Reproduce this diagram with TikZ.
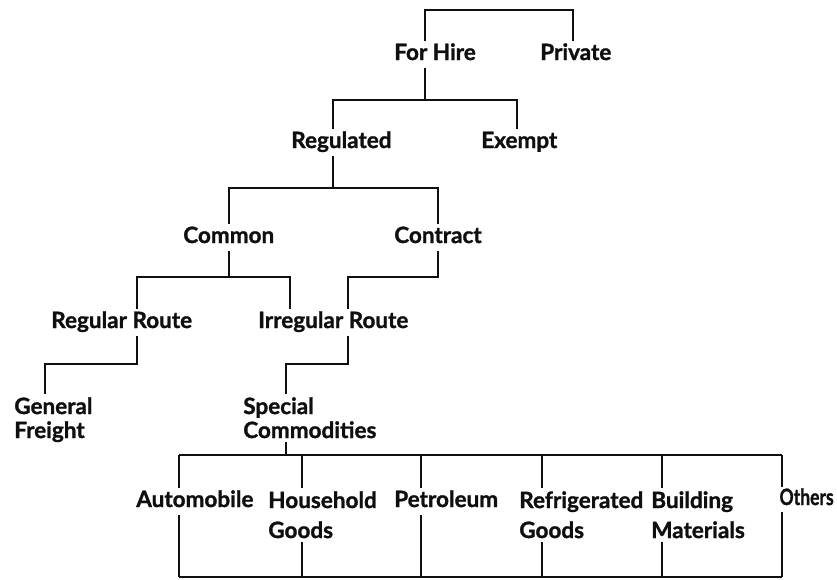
\documentclass[tikz,border=0pt]{standalone}
\usepackage{fontspec}
\setmainfont{Lato}[BoldFeatures={FakeBold=1.2}]
\usepackage{tikz}
\usetikzlibrary{positioning}
\definecolor{ink}{RGB}{15,15,15}

\begin{document}
\begin{tikzpicture}[x=1pt,y=-1pt,line width=2.6pt,color=ink,every node/.style={font=\fontsize{22.5}{24}\selectfont\bfseries,inner sep=2pt}]
\tikzstyle{t}=[anchor=base west,text height=16pt,text depth=5pt]
\tikzstyle{m}=[anchor=north west,align=left]
\useasboundingbox (0,0) rectangle (837,579);
\node[t] (fh) at (391,60)  {For Hire};
\node[t] (pv) at (537,60)  {Private};
\node[t] (rg) at (288,148) {Regulated};
\node[t] (ex) at (478,148) {Exempt};
\node[t] (cm) at (180,243) {Common};
\node[t] (ct) at (391,243) {Contract};
\node[t] (rr) at (48,328)  {Regular Route};
\node[t] (ir) at (255,328) {Irregular Route};
\node[m] (gf) at (11,394)  {General\\Freight};
\node[m] (sc) at (240,394) {Special\\Commodities};
\node[t] (au) at (133,507) {Automobile};
\node[m] (hg) at (265,488) {Household\\[6pt]Goods};
\node[t] (pe) at (391,507) {Petroleum};
\node[m] (rf) at (516,488) {Refrigerated\\[6pt]Goods};
\node[m] (bm) at (648,488) {Building\\[6pt]Materials};
\node[t,anchor=base east,inner sep=1pt] (ot) at (836,505) {\scalebox{0.78}[1]{Others}};
\coordinate (j1a) at (425,10);  \coordinate (j1b) at (573,10);
\draw (fh.north -| j1a) -- (j1a) -- (j1b) -- (pv.north -| j1b);
\coordinate (j2) at (425,100);  \coordinate (j2a) at (333,100); \coordinate (j2b) at (517,100);
\draw (fh.south -| j2) -- (j2);
\draw (rg.north -| j2a) -- (j2a) -- (j2b) -- (ex.north -| j2b);
\coordinate (j3) at (333,188);  \coordinate (j3a) at (229,188); \coordinate (j3b) at (438,188);
\draw (rg.south -| j3) -- (j3);
\draw (cm.north -| j3a) -- (j3a) -- (j3b) -- (ct.north -| j3b);
\coordinate (j4) at (229,277);  \coordinate (j4a) at (137,277); \coordinate (j4b) at (290,277);
\draw (cm.south -| j4) -- (j4);
\draw (rr.north -| j4a) -- (j4a) -- (j4b) -- (ir.north -| j4b);
\coordinate (j5) at (438,277);  \coordinate (j5a) at (348,277);
\draw (ct.south -| j5) -- (j5) -- (j5a) -- (ir.north -| j5a);
\coordinate (j6) at (137,364);  \coordinate (j6a) at (45,364);
\draw (rr.south -| j6) -- (j6) -- (j6a) -- (gf.north -| j6a);
\coordinate (j7) at (348,364);  \coordinate (j7a) at (286,364);
\draw (ir.south -| j7) -- (j7) -- (j7a) -- (sc.north -| j7a);
\coordinate (j8) at (286,455);
\draw (sc.south -| j8) -- (j8);
\foreach \x [count=\i] in {179,302,421,542,662,782}{
  \coordinate (up\i) at (\x,455);
  \coordinate (dn\i) at (\x,577);
}
\draw (up1) -- (up6);
\draw (dn1) -- (dn6);
\foreach \n [count=\i] in {au,hg,pe,rf,bm,ot}{
  \draw (\n.north -| up\i) -- (up\i);
  \draw (\n.south -| dn\i) -- (dn\i);
}
\end{tikzpicture}
\end{document}
